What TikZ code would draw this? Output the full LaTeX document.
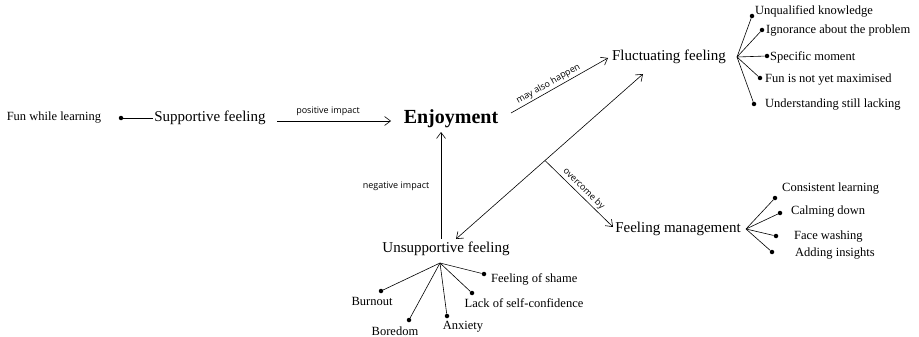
\documentclass[tikz,border=0pt]{standalone}
\usepackage{fontspec}
\setmainfont{Liberation Serif}
\newfontfamily\labelfont{Open Sans}
\usetikzlibrary{arrows.meta}
\begin{document}
\begin{tikzpicture}[x=1pt,y=-1pt,
  main/.style={font=\fontsize{15}{17}\selectfont, inner sep=1pt},
  leaf/.style={font=\fontsize{12.5}{14}\selectfont, inner sep=1pt, anchor=west},
  rel/.style={draw, line width=0.6pt, -{Straight Barb[length=6pt,width=9pt]}},
  twoway/.style={draw, line width=0.6pt, {Straight Barb[length=6pt,width=9pt]}-{Straight Barb[length=6pt,width=9pt]}},
  branch/.style={draw, line width=0.6pt},
  lbl/.style={font=\labelfont\fontsize{9}{10}\selectfont, inner sep=2pt},
  dot/.style={circle, fill, inner sep=0pt, minimum size=4.5pt}]
\useasboundingbox (0,0) rectangle (919,337);

% central concept and the four main feelings
\node[font=\fontsize{20}{23}\selectfont\bfseries] (enj) at (451,119) {Enjoyment};
\node[main] (sup) at (210,118) {Supportive feeling};
\node[main] (fluc) at (669,57) {Fluctuating feeling};
\node[main] (man) at (678,229) {Feeling management};
\node[main] (uns) at (446,249) {Unsupportive feeling};

% supportive side
\node[leaf, anchor=center] (fun) at (54,118) {Fun while learning};
\node[dot] (dfun) at (121,118) {};
\draw[branch] (dfun) -- (sup.west);
\coordinate (p1) at (277,121);
\coordinate (p2) at (391,121);
\draw[rel] (p1) -- (p2);
\node[lbl] (lpos) at (328,111) {positive impact};

% may also happen
\coordinate (m1) at (511,113);
\coordinate (m2) at (608,58);
\draw[rel] (m1) -- (m2) node[lbl, pos=0.42, above, sloped] (lmay) {may also happen};

% fluctuating feeling and unsupportive feeling, both ways
\coordinate (f1) at (643,74);
\coordinate (u1) at (456,239);
\draw[twoway] (u1) -- (f1);

% overcome by, branching off the two-way connector
\coordinate (g1) at (545,160.5);
\coordinate (g2) at (613,227);
\draw[rel] (g1) -- (g2) node[lbl, midway, above, sloped] (lover) {overcome by};

% negative impact
\coordinate (n1) at (441,239);
\coordinate (n2) at (441,132);
\draw[rel] (n1) -- (n2);
\node[lbl] (lneg) at (396,186) {negative impact};

% causes of fluctuating feeling
\coordinate (ff) at (737,57);
\node[dot] (fa) at (752,16) {};
\node[dot] (fb) at (762,30) {};
\node[dot] (fc) at (767,56) {};
\node[dot] (fd) at (760,78) {};
\node[dot] (fe) at (754,104) {};
\foreach \d in {fa,fb,fc,fd,fe} \draw[branch] (ff) -- (\d);
\node[leaf] (ta) at (754,11) {Unqualified knowledge};
\node[leaf] (tb) at (765,31) {Ignorance about the problem};
\node[leaf] (tc) at (769,57) {Specific moment};
\node[leaf] (td) at (764,80) {Fun is not yet maximised};
\node[leaf] (te) at (764,105) {Understanding still lacking};

% ways of managing the feeling
\coordinate (mf) at (746,229);
\node[dot] (ma) at (775,198) {};
\node[dot] (mb) at (780,213) {};
\node[dot] (mc) at (776,236) {};
\node[dot] (md) at (772,252) {};
\foreach \d in {ma,mb,mc,md} \draw[branch] (mf) -- (\d);
\node[leaf] (sa) at (781,189) {Consistent learning};
\node[leaf] (sb) at (790,212) {Calming down};
\node[leaf] (sc) at (793,237) {Face washing};
\node[leaf] (sd) at (794,254) {Adding insights};

% kinds of unsupportive feeling
\coordinate (uf) at (440,263);
\node[dot] (ua) at (484,274) {};
\node[dot] (ub) at (472,293) {};
\node[dot] (uc) at (447,316) {};
\node[dot] (ud) at (409,320) {};
\node[dot] (ue) at (381,291) {};
\foreach \d in {ua,ub,uc,ud,ue} \draw[branch] (uf) -- (\d);
\node[leaf] (va) at (490,279) {Feeling of shame};
\node[leaf, anchor=center] (vb) at (524,303) {Lack of self-confidence};
\node[leaf, anchor=center] (vc) at (463,327) {Anxiety};
\node[leaf, anchor=center] (vd) at (395,331) {Boredom};
\node[leaf, anchor=center] (ve) at (372,301) {Burnout};
\end{tikzpicture}
\end{document}
